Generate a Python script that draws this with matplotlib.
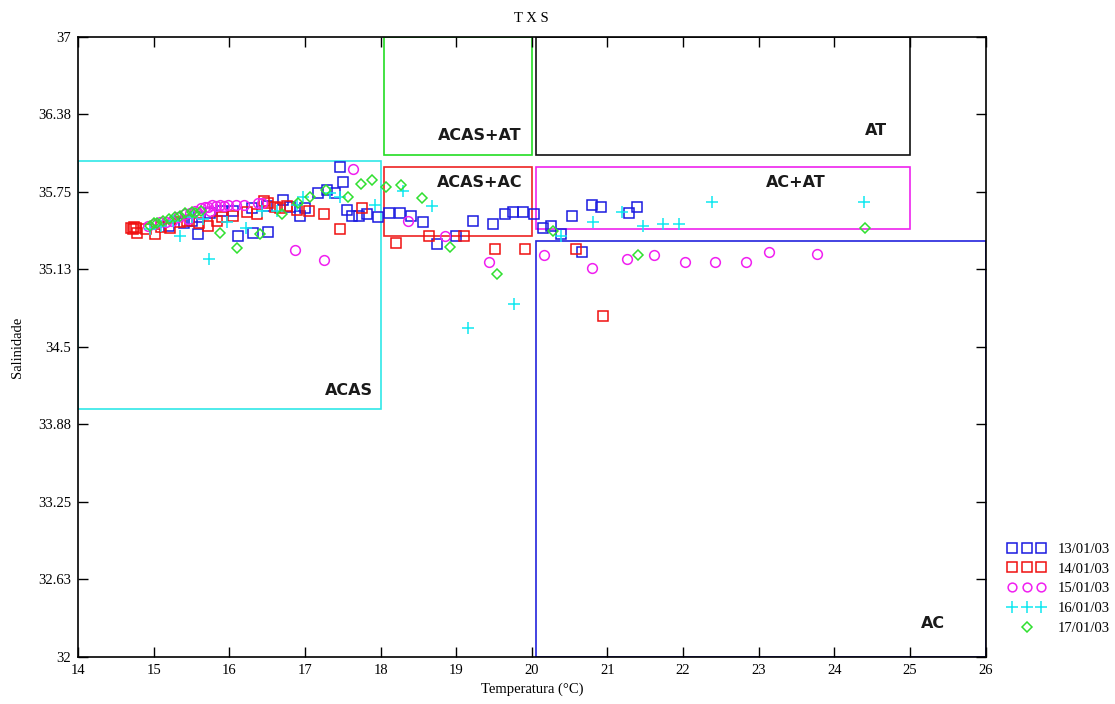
import matplotlib
matplotlib.use("Agg")
import matplotlib.pyplot as plt
from matplotlib.patches import Rectangle
from matplotlib.legend_handler import HandlerLine2D

plt.rcParams['font.family'] = ['Liberation Serif', 'DejaVu Serif']

# T-S data, one cruise day per series
t_13 = [15.20, 15.40, 15.50, 15.60, 15.75, 15.90, 16.05, 16.30, 16.50, 16.80, 17.00,
        15.59, 16.11, 16.31, 16.51, 16.71, 16.93, 17.17, 17.29, 17.40, 17.46, 17.50,
        17.55, 17.62, 17.71, 17.82, 17.96, 18.11, 18.26, 18.40, 18.56, 18.74, 19.00,
        19.22, 19.48, 19.64, 19.75, 19.88, 20.03, 20.15, 20.25, 20.38, 20.53, 20.66,
        20.79, 20.91, 21.29, 21.39]
s_13 = [35.48, 35.50, 35.52, 35.55, 35.58, 35.60, 35.60, 35.62, 35.64, 35.63, 35.62,
        35.41, 35.40, 35.42, 35.43, 35.69, 35.56, 35.74, 35.77, 35.74, 35.95, 35.83,
        35.61, 35.56, 35.56, 35.57, 35.55, 35.58, 35.58, 35.56, 35.51, 35.33, 35.40,
        35.52, 35.49, 35.57, 35.59, 35.59, 35.57, 35.46, 35.48, 35.41, 35.56, 35.27,
        35.65, 35.63, 35.58, 35.63]

t_14 = [14.70, 14.72, 14.74, 14.76, 14.78, 14.90, 15.02, 15.10, 15.22, 15.35, 15.44,
        15.60, 15.72, 15.84, 15.90, 16.05, 16.23, 16.37, 16.46, 16.51, 16.60, 16.67,
        16.76, 16.89, 17.05, 17.25, 17.46, 17.75, 18.20, 18.64, 19.10, 19.51, 19.91,
        20.58, 20.94]
s_14 = [35.46, 35.45, 35.47, 35.46, 35.42, 35.45, 35.41, 35.47, 35.46, 35.51, 35.52,
        35.50, 35.48, 35.52, 35.55, 35.56, 35.59, 35.57, 35.68, 35.66, 35.63, 35.62,
        35.64, 35.61, 35.60, 35.57, 35.45, 35.62, 35.34, 35.40, 35.40, 35.29, 35.29,
        35.29, 34.75]

t_15 = [14.93, 15.00, 15.08, 15.16, 15.24, 15.32, 15.41, 15.48, 15.55, 15.62, 15.68,
        15.72, 15.77, 15.82, 15.88, 15.93, 15.98, 16.09, 16.20, 16.38, 16.43, 15.45,
        15.60, 15.75, 16.87, 17.25, 17.63, 18.36, 18.85, 19.44, 20.16, 20.79, 21.26,
        21.61, 22.03, 22.42, 22.83, 23.13, 23.77]
s_15 = [35.48, 35.49, 35.51, 35.51, 35.52, 35.55, 35.57, 35.58, 35.60, 35.62, 35.63,
        35.63, 35.65, 35.64, 35.65, 35.64, 35.65, 35.65, 35.65, 35.66, 35.66, 35.53,
        35.57, 35.60, 35.28, 35.20, 35.94, 35.52, 35.40, 35.19, 35.24, 35.14, 35.21,
        35.24, 35.19, 35.19, 35.19, 35.27, 35.25]

t_16 = [14.95, 15.10, 15.25, 15.35, 15.50, 15.65, 15.73, 15.97, 16.22, 16.43, 16.63,
        16.89, 16.97, 17.33, 17.46, 17.92, 18.29, 18.68, 19.15, 19.76, 20.38, 20.81,
        21.19, 21.47, 21.74, 21.94, 22.38, 24.39]
s_16 = [35.45, 35.48, 35.52, 35.40, 35.55, 35.53, 35.21, 35.51, 35.46, 35.60, 35.60,
        35.65, 35.71, 35.74, 35.71, 35.65, 35.76, 35.64, 34.65, 34.85, 35.40, 35.51,
        35.59, 35.48, 35.49, 35.49, 35.67, 35.67]

t_17 = [14.95, 15.00, 15.05, 15.12, 15.20, 15.28, 15.35, 15.42, 15.50, 15.55, 15.62,
        15.88, 16.10, 16.41, 16.70, 16.91, 17.07, 17.28, 17.57, 17.74, 17.89, 18.07,
        18.27, 18.55, 18.92, 19.54, 20.28, 21.40, 24.41]
s_17 = [35.48, 35.50, 35.50, 35.52, 35.53, 35.55, 35.56, 35.58, 35.59, 35.58, 35.60,
        35.42, 35.30, 35.41, 35.57, 35.66, 35.71, 35.77, 35.71, 35.82, 35.85, 35.79,
        35.81, 35.70, 35.31, 35.09, 35.44, 35.24, 35.46]

# Water mass boxes (temperature and salinity limits)
box_names = ['ACAS', 'ACAS+AT', 'AT', 'ACAS+AC', 'AC+AT', 'AC']
box_t0 = [14.0, 18.05, 20.05, 18.05, 20.05, 20.05]
box_t1 = [18.0, 20.0, 25.0, 20.0, 25.0, 26.0]
box_s0 = [34.0, 36.05, 36.05, 35.40, 35.45, 32.0]
box_s1 = [36.0, 37.0, 37.0, 35.95, 35.95, 35.36]
box_colors = ['#30e8e8', '#22dd22', '#111111', '#ee2222', '#ee22ee', '#2222dd']
label_t = [17.58, 19.31, 24.55, 19.31, 23.49, 25.31]
label_s = [34.15, 36.21, 36.25, 35.83, 35.83, 32.27]

y_ticks = [32, 32.63, 33.25, 33.88, 34.5, 35.13, 35.75, 36.38, 37]
y_tick_labels = ['32', '32.63', '33.25', '33.88', '34.5', '35.13', '35.75', '36.38', '37']

fig = plt.figure(figsize=(11.15, 7.04), dpi=100)
ax = fig.add_axes([0.070, 0.067, 0.814, 0.880])

for name, t0, t1, s0, s1, c, lt, ls in zip(box_names, box_t0, box_t1, box_s0, box_s1,
                                             box_colors, label_t, label_s):
    ax.add_patch(Rectangle((t0, s0), t1 - t0, s1 - s0, fill=False, edgecolor=c,
                           linewidth=1.2, zorder=1))
    ax.text(lt, ls, name, ha='center', va='center', fontsize=11.5, fontweight='bold',
            family='DejaVu Sans', color='#1a1a1a', zorder=5)

mk = dict(linestyle='none', markerfacecolor='none', markeredgewidth=1.1)
h1, = ax.plot(t_13, s_13, marker='s', ms=7.5, color='#1a1ae0', label='13/01/03', **mk)
h2, = ax.plot(t_14, s_14, marker='s', ms=7.5, color='#f01010', label='14/01/03', **mk)
h3, = ax.plot(t_15, s_15, marker='o', ms=7, color='#f020f0', label='15/01/03', **mk)
h4, = ax.plot(t_16, s_16, marker='+', ms=9, color='#10e8f0', label='16/01/03', **mk)
h5, = ax.plot(t_17, s_17, marker='D', ms=5.5, color='#30e030', label='17/01/03', **mk)

ax.set_xlim(14, 26)
ax.set_ylim(32, 37)
ax.set_xticks(range(14, 27))
ax.set_yticks(y_ticks)
ax.set_yticklabels(y_tick_labels)
ax.tick_params(direction='in', length=7, width=1, labelsize=10.5,
               top=True, right=True, pad=5)
for sp in ax.spines.values():
    sp.set_linewidth(1.2)

ax.set_title('T X S', fontsize=10.5, pad=11)
ax.set_xlabel('Temperatura (°C)', fontsize=10.5, labelpad=4)
ax.set_ylabel('Salinidade', fontsize=10.5, labelpad=10)

fig.legend(handles=[h1, h2, h3, h4, h5], loc='upper left',
           bbox_to_anchor=(0.892, 0.248), frameon=False, numpoints=3,
           fontsize=10.5, handlelength=2.6, handletextpad=0.8, labelspacing=0.45,
           markerscale=0.9, handler_map={h5: HandlerLine2D(numpoints=1)})

fig.savefig('out.png', dpi=100)
